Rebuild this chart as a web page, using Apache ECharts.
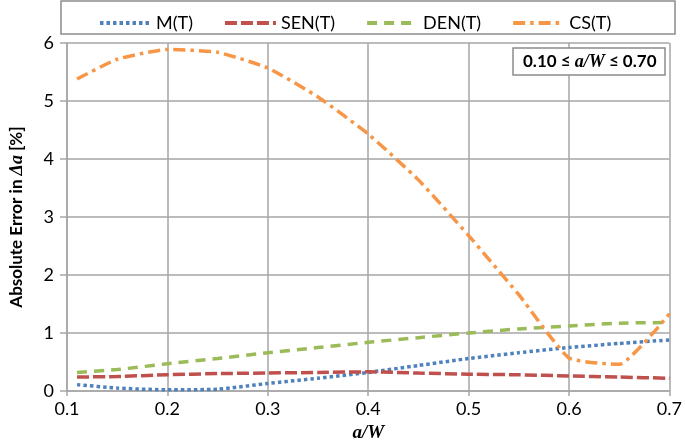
<!DOCTYPE html>
<html>
<head>
<meta charset="utf-8">
<script src="https://cdn.jsdelivr.net/npm/echarts@6/dist/echarts.min.js"></script>
<style>
  html, body { margin: 0; padding: 0; background: #fff; }
  #chart { width: 685px; height: 448px; }
</style>
</head>
<body>
<div id="chart"></div>
<script>
// a/W positions of the computed points
const aW = [0.11, 0.15, 0.2, 0.25, 0.3, 0.35, 0.4, 0.45, 0.5, 0.55, 0.6, 0.65, 0.7];
const errM = [0.11, 0.05, 0.02, 0.03, 0.13, 0.22, 0.32, 0.44, 0.56, 0.66, 0.75, 0.82, 0.88];
const errSEN = [0.24, 0.25, 0.28, 0.30, 0.31, 0.32, 0.33, 0.31, 0.29, 0.28, 0.26, 0.24, 0.22];
const errDEN = [0.32, 0.37, 0.47, 0.56, 0.66, 0.75, 0.84, 0.92, 1.00, 1.07, 1.12, 1.17, 1.18];
const errCS = [5.38, 5.72, 5.89, 5.84, 5.57, 5.07, 4.43, 3.64, 2.68, 1.66, 0.57, 0.46, 1.33];
const seriesNames = ['M(T)', 'SEN(T)', 'DEN(T)', 'CS(T)'];

const font = 'Lato, "Open Sans", sans-serif';
const gridColor = '#a6a6a6';

function pairs(ys) {
  return aW.map((x, i) => [x, ys[i]]);
}

function line(name, ys, color, dash) {
  return {
    name: name,
    type: 'line',
    data: pairs(ys),
    smooth: 0.15,
    showSymbol: false,
    symbol: 'none',
    lineStyle: { color: color, width: 3.5, type: dash, cap: 'butt' },
    itemStyle: { color: color }
  };
}

const chart = echarts.init(document.getElementById('chart'));
chart.setOption({
  animation: false,
  textStyle: { fontFamily: font },
  graphic: [{
    type: 'rect',
    shape: { x: 61, y: 1, width: 614, height: 33 },
    style: { fill: '#fff', stroke: '#8c8c8c', lineWidth: 1.5 },
    z: 0
  }],
  legend: {
    left: 93,
    top: 9,
    itemWidth: 51,
    itemHeight: 16,
    itemGap: 30,
    itemStyle: { opacity: 0 },
    lineStyle: { width: 4 },
    textStyle: { fontSize: 18, color: '#000', fontFamily: font },
    data: seriesNames
  },
  title: {
    text: '{b|0.10 ≤ }{i|a/W}{b| ≤ 0.70}',
    left: 513,
    top: 48,
    padding: [5, 9, 4, 10],
    borderColor: '#8c8c8c',
    borderWidth: 1.5,
    backgroundColor: '#fff',
    textStyle: {
      rich: {
        b: { fontFamily: font, fontWeight: 'bold', fontSize: 17, color: '#000' },
        i: { fontFamily: '"Liberation Serif", serif', fontStyle: 'italic', fontWeight: 'bold', fontSize: 18, color: '#000' }
      }
    }
  },
  grid: { left: 60, right: 12, top: 43, bottom: 52 },
  xAxis: {
    type: 'value',
    min: 0.1,
    max: 0.7,
    interval: 0.1,
    name: 'a/W',
    nameLocation: 'middle',
    nameGap: 33,
    nameTextStyle: {
      fontFamily: '"Liberation Serif", serif',
      fontStyle: 'italic',
      fontWeight: 'bold',
      fontSize: 19,
      color: '#000'
    },
    axisLine: { show: true, lineStyle: { color: gridColor, width: 1.5 } },
    axisTick: { show: true, length: 5, lineStyle: { color: gridColor, width: 1.5 } },
    splitLine: { show: true, lineStyle: { color: gridColor, width: 1.5 } },
    axisLabel: {
      fontSize: 18,
      color: '#000',
      margin: 9,
      formatter: v => v.toFixed(1)
    }
  },
  yAxis: {
    type: 'value',
    min: 0,
    max: 6,
    interval: 1,
    name: '{t|Absolute Error in }{i|Δa}{t| [%]}',
    nameLocation: 'middle',
    nameGap: 41,
    nameRotate: 90,
    nameTextStyle: {
      rich: {
        t: { fontFamily: font, fontWeight: 'bold', fontSize: 17, color: '#000' },
        i: { fontFamily: '"Liberation Serif", serif', fontStyle: 'italic', fontWeight: 'bold', fontSize: 18, color: '#000' }
      }
    },
    axisLine: { show: true, lineStyle: { color: gridColor, width: 1.5 } },
    axisTick: { show: true, length: 7, lineStyle: { color: gridColor, width: 1.5 } },
    splitLine: { show: true, lineStyle: { color: gridColor, width: 1.5 } },
    axisLabel: { fontSize: 18, color: '#000', margin: 13 }
  },
  series: [
    line(seriesNames[0], errM, '#4f81bd', [3.5, 3]),
    line(seriesNames[1], errSEN, '#c0504d', [12, 4]),
    line(seriesNames[2], errDEN, '#9bbb59', [10, 7]),
    line(seriesNames[3], errCS, '#f79646', [12, 5, 3.5, 5])
  ]
});
</script>
</body>
</html>
